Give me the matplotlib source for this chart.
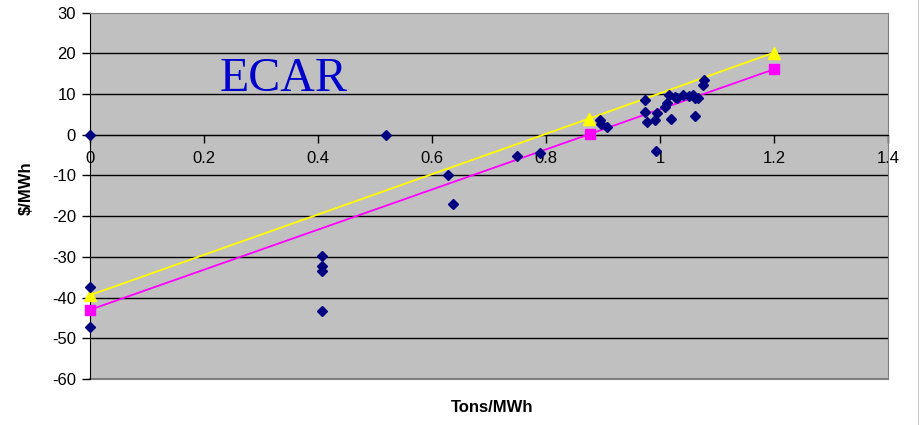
import matplotlib
matplotlib.use("Agg")
import matplotlib.pyplot as plt
from matplotlib.lines import Line2D

# Data (Tons/MWh vs $/MWh)
obs_x = [0.0, 0.0, 0.0, 0.407, 0.407, 0.407, 0.407, 0.519, 0.628, 0.636, 0.750, 0.789,
         0.894, 0.896, 0.907, 0.974, 0.974, 0.977, 0.992, 0.995, 0.993, 1.009, 1.012,
         1.016, 1.019, 1.026, 1.030, 1.040, 1.051, 1.058, 1.061, 1.067, 1.061, 1.075, 1.077]
obs_y = [0.0, -37.5, -47.3, -29.9, -32.2, -33.4, -43.2, 0.0, -9.8, -17.0, -5.1, -4.4,
         3.6, 2.7, 1.9, 8.6, 5.7, 3.2, 3.6, 5.4, -3.9, 6.9, 7.7,
         9.8, 3.8, 9.4, 9.0, 9.8, 9.5, 9.8, 9.0, 9.0, 4.6, 12.2, 13.5]

yellow_x = [0.0, 0.876, 1.2]
yellow_y = [-39.4, 4.0, 20.2]
pink_x = [0.0, 0.877, 1.2]
pink_y = [-43.0, 0.2, 16.1]

x_ticks = [0, 0.2, 0.4, 0.6, 0.8, 1.0, 1.2, 1.4]
x_tick_labels = ["0", "0.2", "0.4", "0.6", "0.8", "1", "1.2", "1.4"]
y_ticks = [30, 20, 10, 0, -10, -20, -30, -40, -50, -60]

plt.rcParams['font.family'] = ['Liberation Sans', 'DejaVu Sans']

fig = plt.figure(figsize=(9.2, 4.25), dpi=100)
ax = fig.add_axes([90/920, 1-379/425, (888-90)/920, (379-12.7)/425])
ax.set_facecolor('#C0C0C0')
ax.set_xlim(0, 1.4)
ax.set_ylim(-60, 30)

for yv in y_ticks:
    if yv in (30, -60):
        continue
    ax.axhline(yv, color='black', lw=1.0, zorder=1)

ax.plot(yellow_x, yellow_y, color='#FFFF00', lw=1.3, marker='^', ms=9,
        markerfacecolor='#FFFF00', markeredgecolor='#FFFF00', zorder=3, clip_on=False)
ax.plot(pink_x, pink_y, color='#FF00FF', lw=1.3, marker='s', ms=7.5,
        markerfacecolor='#FF00FF', markeredgecolor='#FF00FF', zorder=3, clip_on=False)
ax.plot(obs_x, obs_y, linestyle='none', marker='D', ms=5.5, color='#000080',
        markeredgecolor='#000080', zorder=4, clip_on=False)

ax.text(0.339, 10.8, "ECAR", family=['Liberation Serif', 'DejaVu Serif'], fontsize=34.5,
        color='#0000CC', ha='center', va='baseline', zorder=5)

ax.spines['bottom'].set_position(('data', 0))
ax.spines['bottom'].set_color('black')
ax.spines['left'].set_color('black')
ax.spines['top'].set_color('#808080')
ax.spines['right'].set_color('#808080')
ax.axhline(-60, color='#808080', lw=1.5, zorder=1, clip_on=False)

ax.set_xticks(x_ticks)
ax.set_xticklabels(x_tick_labels)
ax.set_yticks(y_ticks)
ax.set_yticklabels([str(v) for v in y_ticks])
ax.tick_params(axis='both', direction='out', length=6, width=1, labelsize=12, color='black')
ax.tick_params(axis='x', pad=6)
ax.tick_params(axis='y', pad=4)

fig.text(26/920, 1-188/425, "$/MWh", rotation=90, fontsize=12, fontweight='bold',
         ha='center', va='center')
fig.text(492/920, 1-407/425, "Tons/MWh", fontsize=12, fontweight='bold',
         ha='center', va='center')

fig.add_artist(Line2D([919.5/920, 919.5/920], [0, 1], color='black', lw=1,
                      transform=fig.transFigure))

fig.savefig("out.png", dpi=100)
